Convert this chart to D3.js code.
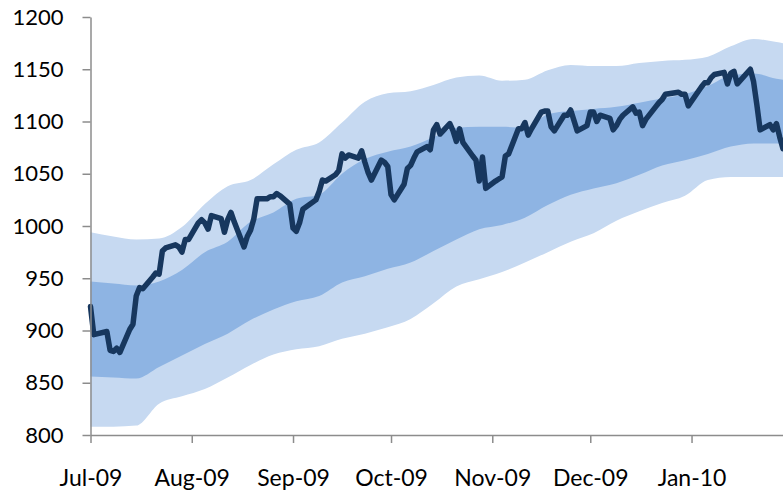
<!DOCTYPE html>
<html>
<head>
<meta charset="utf-8">
<script src="https://cdn.jsdelivr.net/npm/d3@7"></script>
<style>
  body { margin: 0; background: #fff; }
  #chart text { font-family: Lato, "Open Sans", sans-serif; font-size: 22px; fill: #000; }
  #chart .x-axis text { font-size: 23px; }
  .axis path, .axis line { stroke: #8c8c8c; stroke-width: 1.5; }
</style>
</head>
<body>
<div id="chart"></div>
<script>
// Daily closes (trading days)
var tradingDays = [
  "2009-07-01","2009-07-02","2009-07-06","2009-07-07","2009-07-08","2009-07-09","2009-07-10",
  "2009-07-13","2009-07-14","2009-07-15","2009-07-16","2009-07-17","2009-07-20","2009-07-21",
  "2009-07-22","2009-07-23","2009-07-24","2009-07-27","2009-07-28","2009-07-29","2009-07-30","2009-07-31",
  "2009-08-03","2009-08-04","2009-08-05","2009-08-06","2009-08-07","2009-08-10","2009-08-11",
  "2009-08-12","2009-08-13","2009-08-14","2009-08-17","2009-08-18","2009-08-19","2009-08-20",
  "2009-08-21","2009-08-24","2009-08-25","2009-08-26","2009-08-27","2009-08-28","2009-08-31",
  "2009-09-01","2009-09-02","2009-09-03","2009-09-04","2009-09-08","2009-09-09","2009-09-10",
  "2009-09-11","2009-09-14","2009-09-15","2009-09-16","2009-09-17","2009-09-18","2009-09-21",
  "2009-09-22","2009-09-23","2009-09-24","2009-09-25","2009-09-28","2009-09-29","2009-09-30",
  "2009-10-01","2009-10-02","2009-10-05","2009-10-06","2009-10-07","2009-10-08","2009-10-09",
  "2009-10-12","2009-10-13","2009-10-14","2009-10-15","2009-10-16","2009-10-19","2009-10-20",
  "2009-10-21","2009-10-22","2009-10-23","2009-10-26","2009-10-27","2009-10-28","2009-10-29","2009-10-30",
  "2009-11-02","2009-11-03","2009-11-04","2009-11-05","2009-11-06","2009-11-09","2009-11-10",
  "2009-11-11","2009-11-12","2009-11-13","2009-11-16","2009-11-17","2009-11-18","2009-11-19",
  "2009-11-20","2009-11-23","2009-11-24","2009-11-25","2009-11-27","2009-11-30",
  "2009-12-01","2009-12-02","2009-12-03","2009-12-04","2009-12-07","2009-12-08","2009-12-09",
  "2009-12-10","2009-12-11","2009-12-14","2009-12-15","2009-12-16","2009-12-17","2009-12-18",
  "2009-12-21","2009-12-22","2009-12-23","2009-12-24","2009-12-28","2009-12-29","2009-12-30","2009-12-31",
  "2010-01-04","2010-01-05","2010-01-06","2010-01-07","2010-01-08","2010-01-11","2010-01-12",
  "2010-01-13","2010-01-14","2010-01-15","2010-01-19","2010-01-20","2010-01-21","2010-01-22",
  "2010-01-25","2010-01-26","2010-01-27","2010-01-28","2010-01-29"
];
var closes = [
  923, 896, 899, 881, 880, 883, 879,
  901, 906, 933, 941, 940, 951, 955,
  954, 976, 979, 982, 980, 975, 987, 987,
  1003, 1006, 1003, 997, 1010, 1007, 994,
  1006, 1013, 1004, 980, 990, 996, 1007,
  1026, 1026, 1028, 1028, 1031, 1029, 1021,
  998, 995, 1003, 1016, 1025, 1033, 1044,
  1043, 1049, 1053, 1069, 1065, 1068, 1065,
  1072, 1061, 1051, 1044, 1063, 1061, 1057,
  1030, 1025, 1040, 1055, 1058, 1065, 1071,
  1076, 1073, 1092, 1097, 1088, 1098, 1091,
  1081, 1093, 1080, 1067, 1063, 1043, 1066, 1036,
  1043, 1045, 1047, 1067, 1069, 1093, 1093,
  1099, 1087, 1093, 1109, 1110, 1110, 1095,
  1091, 1106, 1106, 1111, 1091, 1096,
  1109, 1109, 1100, 1106, 1103, 1092, 1096,
  1102, 1106, 1114, 1108, 1109, 1096, 1102,
  1114, 1118, 1121, 1126, 1128, 1126, 1126, 1115,
  1133, 1137, 1137, 1142, 1145, 1147, 1136,
  1146, 1148, 1136, 1150, 1138, 1116, 1092,
  1097, 1092, 1098, 1085, 1074
];

// Band edges, sampled weekly
var bandDays = [
  "2009-07-01","2009-07-08","2009-07-15","2009-07-22","2009-07-29","2009-08-05","2009-08-12",
  "2009-08-19","2009-08-26","2009-09-02","2009-09-09","2009-09-16","2009-09-23","2009-09-30",
  "2009-10-07","2009-10-14","2009-10-21","2009-10-28","2009-11-04","2009-11-11","2009-11-18",
  "2009-11-25","2009-12-02","2009-12-09","2009-12-16","2009-12-23","2009-12-30","2010-01-06",
  "2010-01-13","2010-01-20","2010-01-27","2010-01-29"
];
var outerUpper = [
  994, 990, 987, 988, 999, 1021, 1038,
  1044, 1059, 1073, 1080, 1099, 1119, 1127,
  1129, 1135, 1142, 1144, 1139, 1140, 1149,
  1154, 1153, 1153, 1156, 1158, 1159, 1162,
  1172, 1179, 1176, 1175
];
var innerUpper = [
  947, 945, 943, 947, 958, 975, 985,
  1004, 1013, 1026, 1030, 1050, 1064, 1071,
  1076, 1085, 1094, 1095, 1095, 1094, 1107,
  1110, 1112, 1114, 1118, 1122, 1126, 1134,
  1144, 1146, 1141, 1140
];
var innerLower = [
  856, 855, 854, 865, 876, 887, 897,
  910, 920, 928, 933, 946, 952, 959,
  965, 976, 987, 997, 1001, 1008, 1020,
  1030, 1036, 1041, 1049, 1058, 1063, 1069,
  1076, 1079, 1079, 1079
];
var outerLower = [
  808, 808, 809, 830, 837, 844, 855,
  867, 877, 882, 885, 892, 897, 903,
  911, 926, 942, 949, 956, 965, 975,
  985, 993, 1005, 1014, 1022, 1029, 1044,
  1047, 1047, 1047, 1047
];

var yTicks = [800, 850, 900, 950, 1000, 1050, 1100, 1150, 1200];
var monthTicks = ["2009-07-01","2009-08-01","2009-09-01","2009-10-01","2009-11-01","2009-12-01","2010-01-01"];

const chartWidth = 783;
const chartHeight = 493;

const plotLeft = 90.5;
const plotRight = 783;
const plotTop = 17;
const plotBottom = 435;

function createChart() {
  var parse = d3.timeParse("%Y-%m-%d");

  var lineData = tradingDays.map(function(d, i) { return { date: parse(d), value: closes[i] }; });
  var bandData = bandDays.map(function(d, i) {
    return { date: parse(d), ou: outerUpper[i], iu: innerUpper[i], il: innerLower[i], ol: outerLower[i] };
  });

  var xScale = d3.scaleTime()
                .domain([parse("2009-07-01"), parse("2010-01-29")])
                .range([plotLeft, plotRight]);

  var yScale = d3.scaleLinear()
                .domain([800, 1200])
                .range([plotBottom, plotTop]);

  var svg = d3.select("#chart")
              .append("svg")
              .attr("width", chartWidth)
              .attr("height", chartHeight);

  var outerArea = d3.area()
    .x(function(d) { return xScale(d.date); })
    .y0(function(d) { return yScale(d.ol); })
    .y1(function(d) { return yScale(d.ou); })
    .curve(d3.curveMonotoneX);

  var innerArea = d3.area()
    .x(function(d) { return xScale(d.date); })
    .y0(function(d) { return yScale(d.il); })
    .y1(function(d) { return yScale(d.iu); })
    .curve(d3.curveMonotoneX);

  svg.append("path")
    .datum(bandData)
    .attr("d", outerArea)
    .style("fill", "#c6d9f1");

  svg.append("path")
    .datum(bandData)
    .attr("d", innerArea)
    .style("fill", "#8eb4e3");

  var line = d3.line()
    .x(function(d) { return xScale(d.date); })
    .y(function(d) { return yScale(d.value); });

  svg.append("path")
    .datum(lineData)
    .attr("d", line)
    .style("fill", "none")
    .style("stroke", "#17375e")
    .style("stroke-width", 5.5)
    .style("stroke-linejoin", "round")
    .style("stroke-linecap", "round");

  var xAxis = d3.axisBottom(xScale)
    .tickValues(monthTicks.map(parse))
    .tickFormat(d3.timeFormat("%b-%y"))
    .tickSize(8)
    .tickSizeOuter(0);

  var gx = svg.append("g")
    .attr("class", "axis x-axis")
    .attr("transform", "translate(0," + plotBottom + ")")
    .call(xAxis);
  gx.selectAll("text").attr("y", 51).attr("dy", 0);

  var yAxis = d3.axisLeft(yScale)
    .tickValues(yTicks)
    .tickFormat(d3.format("d"))
    .tickSize(8)
    .tickSizeOuter(0)
    .tickPadding(19);

  svg.append("g")
    .attr("class", "axis")
    .attr("transform", "translate(" + plotLeft + ",0)")
    .call(yAxis);

  svg.selectAll(".axis .domain").style("stroke", "#8c8c8c");
  svg.selectAll(".axis text").attr("font-family", null).attr("font-size", null);
}

createChart();
</script>
</body>
</html>
